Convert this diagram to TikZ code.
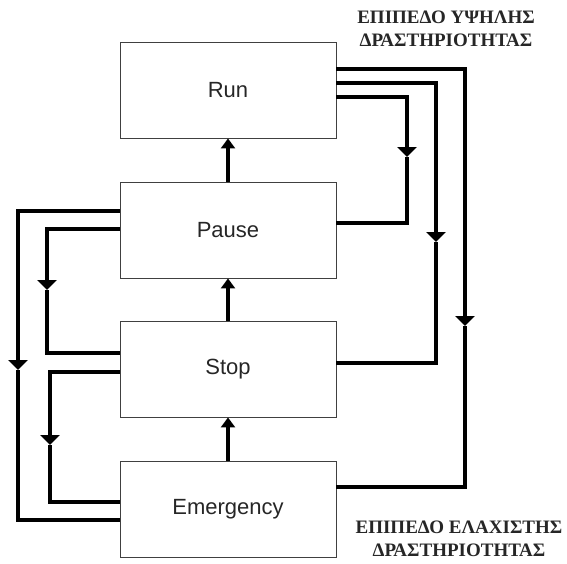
\documentclass[tikz,border=0pt]{standalone}
\usepackage{fontspec}
\setmainfont{Liberation Serif}
\newfontfamily\boxfont{Liberation Sans}
\usetikzlibrary{arrows.meta}
\tikzset{
  state/.style={draw=black!75, line width=0.9pt, minimum width=216pt, minimum height=96pt,
    inner sep=0pt, font=\boxfont\fontsize{22}{22}\selectfont, text=black!85},
  link/.style={line width=4pt},
  mid/.style={line width=4pt, -{Triangle[width=19pt,length=10pt]}},
  up/.style={line width=4pt, -{Triangle[width=14pt,length=10pt]}},
  level/.style={font=\bfseries\fontsize{19}{23}\selectfont, align=center, text=black!85}
}
\begin{document}
\begin{tikzpicture}[x=1pt,y=-1pt]
        \useasboundingbox (0,0) rectangle (567,563);
        %states
        \node[state] (run) at (228,90) {Run};
        \node[state] (pause) at (228,230) {Pause};
        \node[state] (stop) at (228,369) {Stop};
        \node[state] (emerg) at (228,509) {Emergency};
        %upward steps
        \draw[up] (pause.north) -- (run.south);
        \draw[up] (stop.north) -- (pause.south);
        \draw[up] (emerg.north) -- (stop.south);
        %right side
        \coordinate (ra) at (407,157);
        \coordinate (rb) at (436,242);
        \coordinate (rc) at (465,326);
        \draw[mid] (run.east |- 0,97) -| (ra);
        \draw[link] (ra) |- (pause.east |- 0,223);
        \draw[mid] (run.east |- 0,83) -| (rb);
        \draw[link] (rb) |- (stop.east |- 0,363);
        \draw[mid] (run.east |- 0,69) -| (rc);
        \draw[link] (rc) |- (emerg.east |- 0,487);
        %left side
        \coordinate (la) at (47,290);
        \coordinate (lb) at (18,370);
        \coordinate (lc) at (50,445);
        \draw[mid] (pause.west |- 0,229) -| (la);
        \draw[link] (la) |- (stop.west |- 0,353);
        \draw[mid] (pause.west |- 0,211) -| (lb);
        \draw[link] (lb) |- (emerg.west |- 0,520);
        \draw[mid] (stop.west |- 0,372) -| (lc);
        \draw[link] (lc) |- (emerg.west |- 0,502);
        %levels
        \node[level] (high) at (446,29) {ΕΠΙΠΕΔΟ ΥΨΗΛΗΣ\\ΔΡΑΣΤΗΡΙΟΤΗΤΑΣ};
        \node[level] (low) at (459,539) {ΕΠΙΠΕΔΟ ΕΛΑΧΙΣΤΗΣ\\ΔΡΑΣΤΗΡΙΟΤΗΤΑΣ};
    \end{tikzpicture}
\end{document}
